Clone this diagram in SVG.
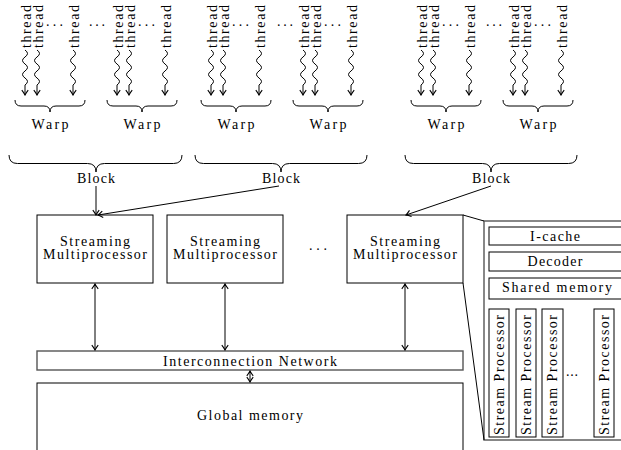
<svg xmlns="http://www.w3.org/2000/svg" width="621" height="450" viewBox="0 0 621 450">
<defs>
<marker id="ah" viewBox="-6 -4 7 8" refX="0" refY="0" markerWidth="7" markerHeight="8" orient="auto-start-reverse" markerUnits="userSpaceOnUse">
<path d="M-4.8,-3.2 Q-1.8,-0.9 0,0 Q-1.8,0.9 -4.8,3.2" fill="none" stroke="#000" stroke-width="1.1"/>
</marker>
</defs>
<style>
text{font-family:"Liberation Serif","Times New Roman",serif;font-size:14px;fill:#000}
.box{fill:#fff;stroke:#000;stroke-width:1}
.gbox{fill:#fff;stroke:#555;stroke-width:1.4}
.ln{fill:none;stroke:#000;stroke-width:1}
.arr{fill:none;stroke:#000;stroke-width:1;marker-end:url(#ah)}
.darr{fill:none;stroke:#000;stroke-width:1;marker-start:url(#ah);marker-end:url(#ah)}
.brace{fill:none;stroke:#000;stroke-width:1}
.c{text-anchor:middle}
</style>

<!-- threads -->
<g id="threads">
<text transform="translate(30.5,48) rotate(-90)" textLength="43" lengthAdjust="spacing">thread</text>
<text transform="translate(42.5,48) rotate(-90)" textLength="43" lengthAdjust="spacing">thread</text>
<text transform="translate(78.5,48) rotate(-90)" textLength="43" lengthAdjust="spacing">thread</text>
<text transform="translate(122.5,48) rotate(-90)" textLength="43" lengthAdjust="spacing">thread</text>
<text transform="translate(134.5,48) rotate(-90)" textLength="43" lengthAdjust="spacing">thread</text>
<text transform="translate(170.5,48) rotate(-90)" textLength="43" lengthAdjust="spacing">thread</text>
<text transform="translate(216.5,48) rotate(-90)" textLength="43" lengthAdjust="spacing">thread</text>
<text transform="translate(228.5,48) rotate(-90)" textLength="43" lengthAdjust="spacing">thread</text>
<text transform="translate(264.5,48) rotate(-90)" textLength="43" lengthAdjust="spacing">thread</text>
<text transform="translate(308.5,48) rotate(-90)" textLength="43" lengthAdjust="spacing">thread</text>
<text transform="translate(320.5,48) rotate(-90)" textLength="43" lengthAdjust="spacing">thread</text>
<text transform="translate(356.5,48) rotate(-90)" textLength="43" lengthAdjust="spacing">thread</text>
<text transform="translate(426.5,48) rotate(-90)" textLength="43" lengthAdjust="spacing">thread</text>
<text transform="translate(438.5,48) rotate(-90)" textLength="43" lengthAdjust="spacing">thread</text>
<text transform="translate(474.5,48) rotate(-90)" textLength="43" lengthAdjust="spacing">thread</text>
<text transform="translate(518.5,48) rotate(-90)" textLength="43" lengthAdjust="spacing">thread</text>
<text transform="translate(530.5,48) rotate(-90)" textLength="43" lengthAdjust="spacing">thread</text>
<text transform="translate(566.5,48) rotate(-90)" textLength="43" lengthAdjust="spacing">thread</text>
<!-- dots -->
<text x="46" y="26" textLength="17" lengthAdjust="spacing">...</text>
<text x="89" y="26" textLength="16" lengthAdjust="spacing">...</text>
<text x="138" y="26" textLength="17" lengthAdjust="spacing">...</text>
<text x="232" y="26" textLength="17" lengthAdjust="spacing">...</text>
<text x="277" y="26" textLength="16" lengthAdjust="spacing">...</text>
<text x="324" y="26" textLength="17" lengthAdjust="spacing">...</text>
<text x="442" y="26" textLength="17" lengthAdjust="spacing">...</text>
<text x="486" y="26" textLength="16" lengthAdjust="spacing">...</text>
<text x="534" y="26" textLength="17" lengthAdjust="spacing">...</text>
</g>

<!-- warps -->
<g id="warp1"><path class="brace" d="M15,100 Q15,106 21,106 L44,106 Q50,106 50,112 Q50,106 56,106 L79,106 Q85,106 85,100"/><text class="c" x="50" y="128.5" textLength="37" lengthAdjust="spacing">Warp</text></g>
<g id="warp2"><path class="brace" d="M107,100 Q107,106 113,106 L136,106 Q142,106 142,112 Q142,106 148,106 L171,106 Q177,106 177,100"/><text class="c" x="142" y="128.5" textLength="37" lengthAdjust="spacing">Warp</text></g>
<g id="warp3"><path class="brace" d="M201,100 Q201,106 207,106 L230,106 Q236,106 236,112 Q236,106 242,106 L265,106 Q271,106 271,100"/><text class="c" x="236" y="128.5" textLength="37" lengthAdjust="spacing">Warp</text></g>
<g id="warp4"><path class="brace" d="M293,100 Q293,106 299,106 L322,106 Q328,106 328,112 Q328,106 334,106 L357,106 Q363,106 363,100"/><text class="c" x="328" y="128.5" textLength="37" lengthAdjust="spacing">Warp</text></g>
<g id="warp5"><path class="brace" d="M411,100 Q411,106 417,106 L440,106 Q446,106 446,112 Q446,106 452,106 L475,106 Q481,106 481,100"/><text class="c" x="446" y="128.5" textLength="37" lengthAdjust="spacing">Warp</text></g>
<g id="warp6"><path class="brace" d="M503,100 Q503,106 509,106 L532,106 Q538,106 538,112 Q538,106 544,106 L567,106 Q573,106 573,100"/><text class="c" x="538" y="128.5" textLength="37" lengthAdjust="spacing">Warp</text></g>

<!-- blocks -->
<g id="block1"><path class="brace" d="M9,155 Q9,163.5 17.5,163.5 L87.5,163.5 Q96,163.5 96,172 Q96,163.5 104.5,163.5 L173.5,163.5 Q182,163.5 182,155"/><text class="c" x="96" y="183" textLength="38" lengthAdjust="spacing">Block</text></g>
<g id="block2"><path class="brace" d="M195,155 Q195,163.5 203.5,163.5 L272.5,163.5 Q281,163.5 281,172 Q281,163.5 289.5,163.5 L358.5,163.5 Q367,163.5 367,155"/><text class="c" x="281" y="183" textLength="38" lengthAdjust="spacing">Block</text></g>
<g id="block3"><path class="brace" d="M405,155 Q405,163.5 413.5,163.5 L482.5,163.5 Q491,163.5 491,172 Q491,163.5 499.5,163.5 L568.5,163.5 Q577,163.5 577,155"/><text class="c" x="491" y="183" textLength="38" lengthAdjust="spacing">Block</text></g>

<!-- streaming multiprocessors -->
<g id="sm1"><rect class="box" x="37" y="215" width="116" height="68"/><text class="c" x="95" y="245.5" textLength="70" lengthAdjust="spacing">Streaming</text><text class="c" x="95" y="259" textLength="104" lengthAdjust="spacing">Multiprocessor</text></g>
<g id="sm2"><rect class="box" x="167" y="215" width="116" height="68"/><text class="c" x="225" y="245.5" textLength="70" lengthAdjust="spacing">Streaming</text><text class="c" x="225" y="259" textLength="104" lengthAdjust="spacing">Multiprocessor</text></g>
<g id="smdots"><text x="309" y="250" textLength="18" lengthAdjust="spacing">...</text></g>
<g id="sm3"><rect class="box" x="347" y="215" width="116" height="68"/><text class="c" x="405" y="245.5" textLength="70" lengthAdjust="spacing">Streaming</text><text class="c" x="405" y="259" textLength="104" lengthAdjust="spacing">Multiprocessor</text></g>

<!-- interconnection network -->
<g id="interconnect"><rect class="gbox" x="37" y="351" width="426" height="19"/><text class="c" x="250" y="365.5" textLength="174" lengthAdjust="spacing">Interconnection Network</text></g>

<!-- global memory -->
<g id="globalmem"><rect class="box" x="37" y="383" width="426" height="80"/><text class="c" x="250" y="420" textLength="106" lengthAdjust="spacing">Global memory</text></g>

<!-- SM detail panel -->
<g id="smdetail">
<rect class="gbox" x="484" y="221" width="160" height="219"/>
<rect class="box" x="489" y="227" width="160" height="18"/><text class="c" x="555" y="240.5" textLength="50" lengthAdjust="spacing">I-cache</text>
<rect class="box" x="489" y="252" width="160" height="19"/><text class="c" x="555" y="266" textLength="55" lengthAdjust="spacing">Decoder</text>
<rect class="box" x="489" y="278" width="160" height="21"/><text class="c" x="557" y="292" textLength="110" lengthAdjust="spacing">Shared memory</text>
</g>
<g id="sp1"><rect class="box" x="489" y="309" width="20" height="128"/><text transform="translate(503.5,435) rotate(-90)" textLength="120" lengthAdjust="spacing">Stream Processor</text></g>
<g id="sp2"><rect class="box" x="516" y="309" width="20" height="128"/><text transform="translate(530.5,435) rotate(-90)" textLength="120" lengthAdjust="spacing">Stream Processor</text></g>
<g id="sp3"><rect class="box" x="542" y="309" width="21" height="128"/><text transform="translate(557,435) rotate(-90)" textLength="120" lengthAdjust="spacing">Stream Processor</text></g>
<g id="spdots"><text x="566" y="376" textLength="12" lengthAdjust="spacing">...</text></g>
<g id="sp4"><rect class="box" x="594" y="309" width="20" height="128"/><text transform="translate(608.5,435) rotate(-90)" textLength="120" lengthAdjust="spacing">Stream Processor</text></g>

<!-- connectors -->
<g id="connectors">
<path class="arr" d="M25,50 Q30,53.5 25,57 T25,64 T25,71 T25,78 T25,85 L25,95"/>
<path class="arr" d="M37,50 Q42,53.5 37,57 T37,64 T37,71 T37,78 T37,85 L37,95"/>
<path class="arr" d="M73,50 Q78,53.5 73,57 T73,64 T73,71 T73,78 T73,85 L73,95"/>
<path class="arr" d="M117,50 Q122,53.5 117,57 T117,64 T117,71 T117,78 T117,85 L117,95"/>
<path class="arr" d="M129,50 Q134,53.5 129,57 T129,64 T129,71 T129,78 T129,85 L129,95"/>
<path class="arr" d="M165,50 Q170,53.5 165,57 T165,64 T165,71 T165,78 T165,85 L165,95"/>
<path class="arr" d="M211,50 Q216,53.5 211,57 T211,64 T211,71 T211,78 T211,85 L211,95"/>
<path class="arr" d="M223,50 Q228,53.5 223,57 T223,64 T223,71 T223,78 T223,85 L223,95"/>
<path class="arr" d="M259,50 Q264,53.5 259,57 T259,64 T259,71 T259,78 T259,85 L259,95"/>
<path class="arr" d="M303,50 Q308,53.5 303,57 T303,64 T303,71 T303,78 T303,85 L303,95"/>
<path class="arr" d="M315,50 Q320,53.5 315,57 T315,64 T315,71 T315,78 T315,85 L315,95"/>
<path class="arr" d="M351,50 Q356,53.5 351,57 T351,64 T351,71 T351,78 T351,85 L351,95"/>
<path class="arr" d="M421,50 Q426,53.5 421,57 T421,64 T421,71 T421,78 T421,85 L421,95"/>
<path class="arr" d="M433,50 Q438,53.5 433,57 T433,64 T433,71 T433,78 T433,85 L433,95"/>
<path class="arr" d="M469,50 Q474,53.5 469,57 T469,64 T469,71 T469,78 T469,85 L469,95"/>
<path class="arr" d="M513,50 Q518,53.5 513,57 T513,64 T513,71 T513,78 T513,85 L513,95"/>
<path class="arr" d="M525,50 Q530,53.5 525,57 T525,64 T525,71 T525,78 T525,85 L525,95"/>
<path class="arr" d="M561,50 Q566,53.5 561,57 T561,64 T561,71 T561,78 T561,85 L561,95"/>
<line class="arr" x1="96" y1="186" x2="96" y2="215"/>
<line class="arr" x1="279" y1="186" x2="98" y2="215"/>
<line class="arr" x1="491" y1="186" x2="406" y2="215"/>
<line class="darr" x1="95" y1="284" x2="95" y2="350"/>
<line class="darr" x1="225" y1="284" x2="225" y2="350"/>
<line class="darr" x1="405" y1="284" x2="405" y2="350"/>
<line class="darr" x1="250" y1="371" x2="250" y2="382"/>
<line class="ln" x1="463" y1="215" x2="484" y2="221"/>
<line class="ln" x1="463" y1="283" x2="484" y2="440"/>
</g>
</svg>
